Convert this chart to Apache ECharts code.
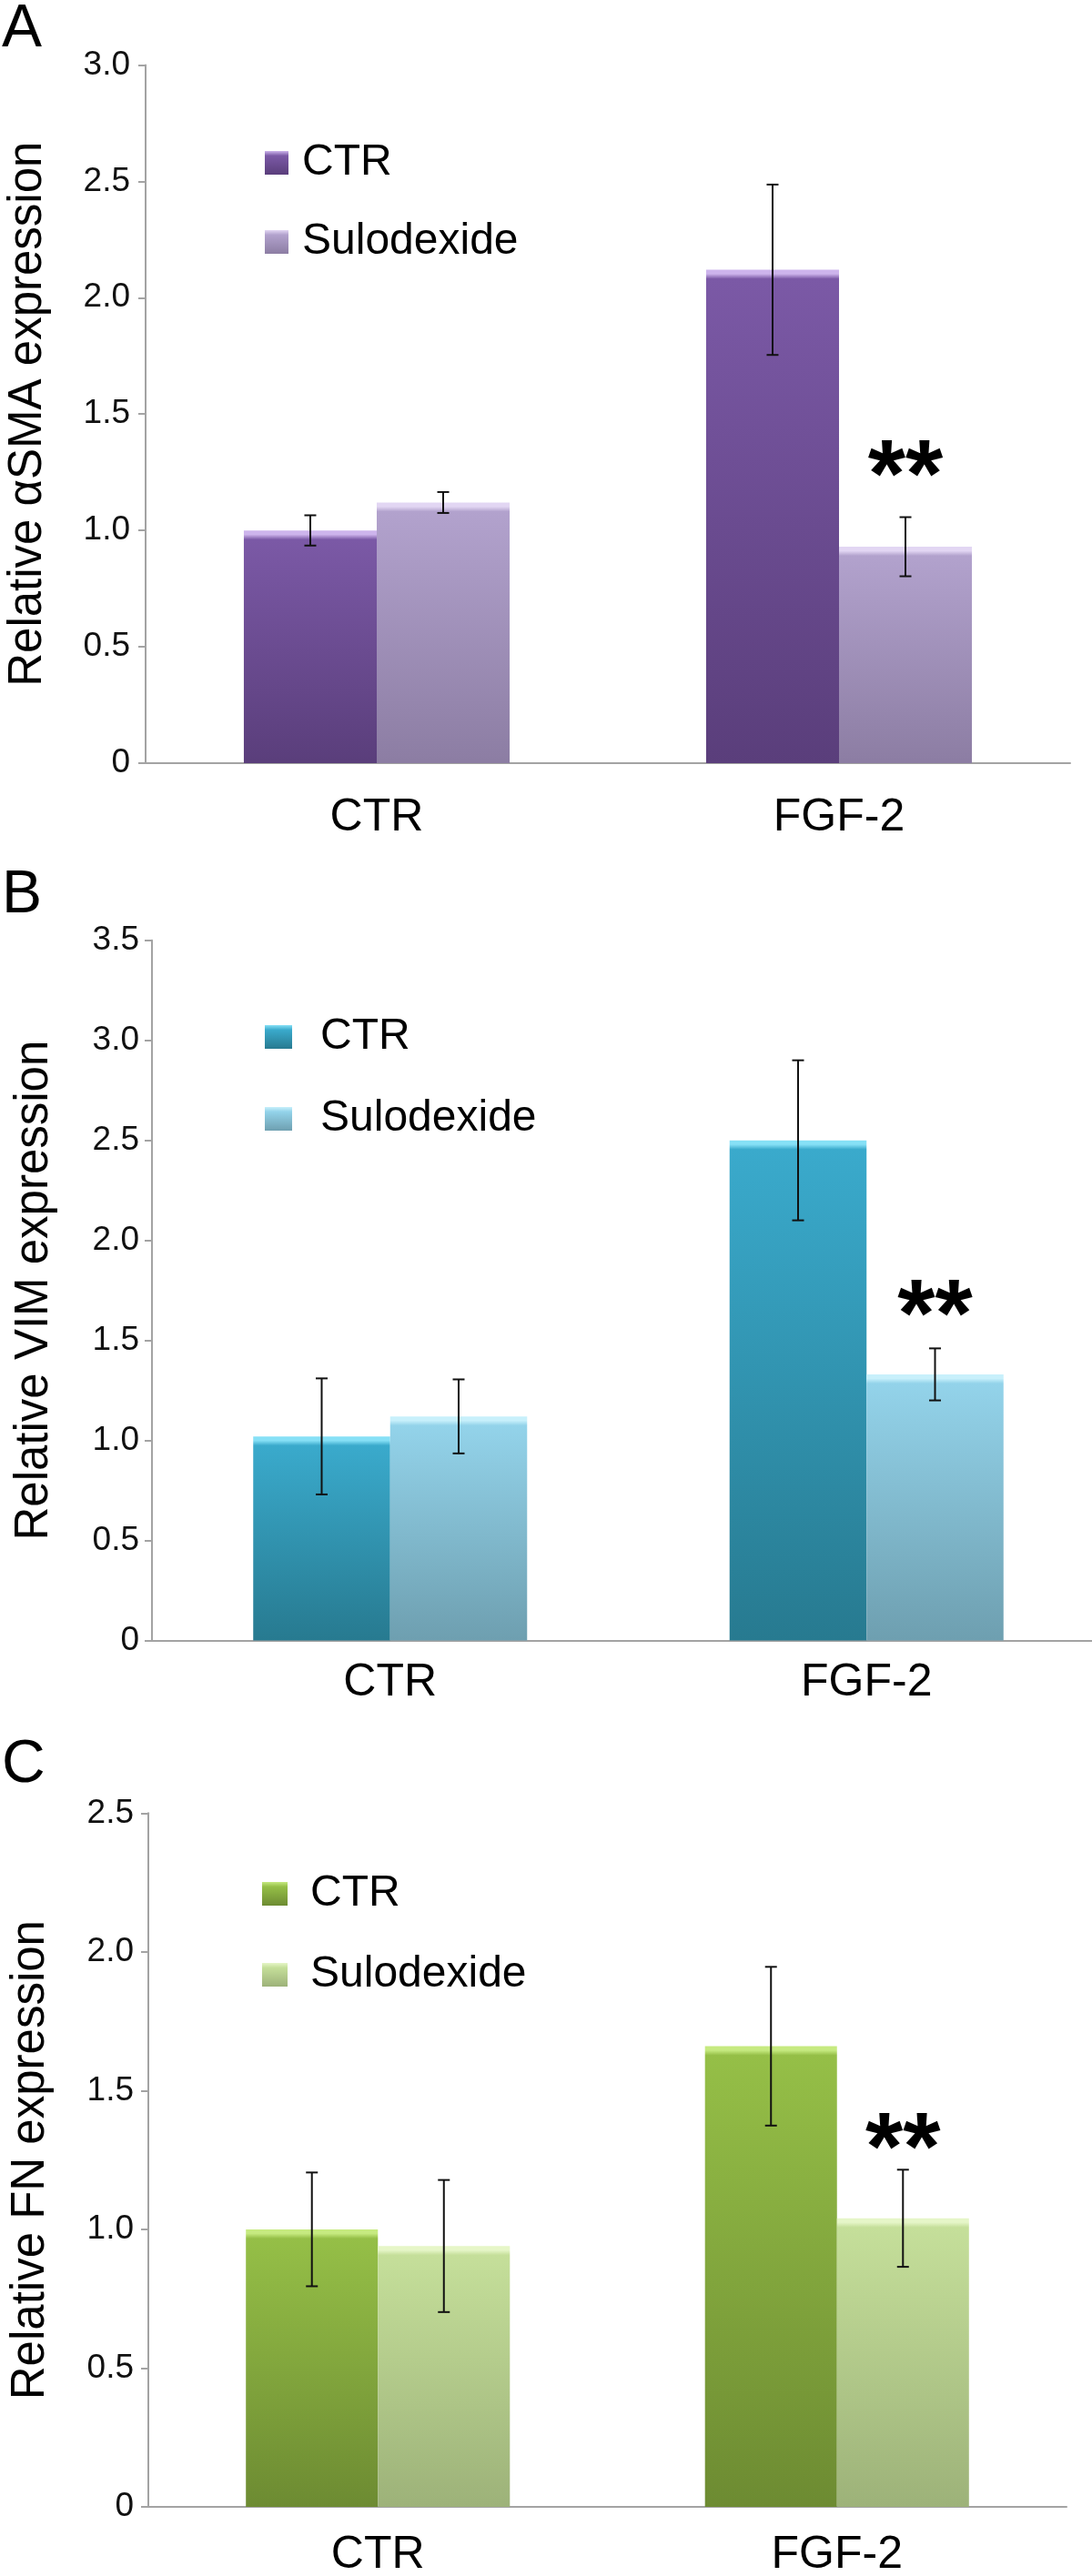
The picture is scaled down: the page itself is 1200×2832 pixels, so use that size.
<!DOCTYPE html>
<html>
<head>
<meta charset="utf-8">
<script src="https://cdn.jsdelivr.net/npm/echarts@6/dist/echarts.min.js"></script>
<style>
html,body{margin:0;padding:0;background:#ffffff;}
#chart{width:1200px;height:2832px;}
</style>
</head>
<body>
<div id="chart"></div>
<script>
// ---------- DATA ----------
const categories = ['CTR', 'FGF-2'];
const groupNames = ['CTR', 'Sulodexide'];

// Panel A : alpha-SMA
const smaCtr = [1.00, 2.12];
const smaCtrErr = [0.065, 0.366];
const smaSulo = [1.12, 0.93];
const smaSuloErr = [0.045, 0.127];
const smaSig = ['', '**'];
const smaTickMax = 3.0;

// Panel B : VIM
const vimCtr = [1.02, 2.50];
const vimCtrErr = [0.29, 0.40];
const vimSulo = [1.12, 1.33];
const vimSuloErr = [0.185, 0.13];
const vimSig = ['', '**'];
const vimTickMax = 3.5;

// Panel C : FN
const fnCtr = [1.00, 1.66];
const fnCtrErr = [0.205, 0.286];
const fnSulo = [0.94, 1.04];
const fnSuloErr = [0.238, 0.175];
const fnSig = ['', '**'];
const fnTickMax = 2.5;

const tickStep = 0.5;

// ---------- STYLE / LAYOUT ----------
const FONT = '"Liberation Sans", Arial, sans-serif';
const panels = [
  { letter: 'A', yName: 'Relative \u03b1SMA expression', ctr: smaCtr, ctrErr: smaCtrErr, sulo: smaSulo, suloErr: smaSuloErr, sig: smaSig, max: smaTickMax,
    grid: { left: 160, top: 71.4, width: 1016, height: 767.6 },
    letterTop: 0, legendTop: 155, legendLeft: 291, legendGap: 39, legendItemW: 26, legendTextPad: 10,
    catMargin: 35, starGap: 63, labelMargin: 17,
    colCtr: { hi: '#cdb4ec', top: '#7b59a6', bottom: '#5a3e7b' },
    colSulo: { hi: '#e2d6f3', top: '#b2a2cd', bottom: '#8c7da3' } },
  { letter: 'B', yName: 'Relative VIM expression', ctr: vimCtr, ctrErr: vimCtrErr, sulo: vimSulo, suloErr: vimSuloErr, sig: vimSig, max: vimTickMax,
    grid: { left: 167, top: 1033.7, width: 1047, height: 769.8 },
    letterTop: 952, legendTop: 1116, legendLeft: 291, legendGap: 42, legendItemW: 30, legendTextPad: 26,
    catMargin: 22, starGap: 54, labelMargin: 14,
    colCtr: { hi: '#86e0f6', top: '#3aaacc', bottom: '#277a90' },
    colSulo: { hi: '#c8f0fb', top: '#93d3ea', bottom: '#6e9fb0' } },
  { letter: 'C', yName: 'Relative FN expression', ctr: fnCtr, ctrErr: fnCtrErr, sulo: fnSulo, suloErr: fnSuloErr, sig: fnSig, max: fnTickMax,
    grid: { left: 163, top: 1993.3, width: 1009, height: 762.7 },
    letterTop: 1908, legendTop: 2058, legendLeft: 288, legendGap: 41, legendItemW: 28, legendTextPad: 20,
    catMargin: 28, starGap: 41, labelMargin: 16,
    colCtr: { hi: '#c6ea80', top: '#95bf47', bottom: '#6d8b32' },
    colSulo: { hi: '#e6f6c8', top: '#c5df9a', bottom: '#9db279' } }
];

const G = echarts.graphic;
function seriesGrad(c) {
  return new G.LinearGradient(0, 0, 0, 1, [
    { offset: 0, color: c.hi }, { offset: 0.2, color: c.top }, { offset: 1, color: c.bottom }]);
}
function barData(vals, c, max, gridH) {
  return vals.map(function (v) {
    const h = v / max * gridH;
    const o = Math.min(0.4, 10 / h);
    return { value: v, itemStyle: { color: new G.LinearGradient(0, 0, 0, 1, [
      { offset: 0, color: c.hi }, { offset: o * 0.45, color: c.hi },
      { offset: o, color: c.top }, { offset: 1, color: c.bottom }]) } };
  });
}
function errSeries(pi, vals, errs, sig, side, starGap) {
  return {
    type: 'custom', xAxisIndex: pi, yAxisIndex: pi, silent: true, z: 10,
    encode: { x: 0, y: [1, 2] },
    data: vals.map(function (v, i) { return [i, v - errs[i], v + errs[i], i]; }),
    renderItem: function (params, api) {
      const idx = api.value(0);
      const band = api.size([1, 0])[0];
      const cx = api.coord([idx, 0])[0] + side * band * 0.14375;
      const yLo = api.coord([idx, api.value(1)])[1];
      const yHi = api.coord([idx, api.value(2)])[1];
      const cap = 6.5;
      const st = { stroke: '#111111', lineWidth: 2 };
      const children = [
        { type: 'line', shape: { x1: cx, y1: yHi, x2: cx, y2: yLo }, style: st },
        { type: 'line', shape: { x1: cx - cap, y1: yHi, x2: cx + cap, y2: yHi }, style: st },
        { type: 'line', shape: { x1: cx - cap, y1: yLo, x2: cx + cap, y2: yLo }, style: st }
      ];
      const s = sig ? sig[api.value(3)] : '';
      if (s) {
        children.push({ type: 'text', x: cx, y: yHi - starGap + 22,
          style: { text: s, font: 'bold 106px "Liberation Sans", Arial, sans-serif', fill: '#000', align: 'center', verticalAlign: 'middle' } });
      }
      return { type: 'group', children: children };
    }
  };
}

const option = {
  animation: false,
  backgroundColor: '#ffffff',
  title: [], grid: [], xAxis: [], yAxis: [], legend: [], series: []
};

panels.forEach(function (p, pi) {
  option.title.push({ text: p.letter, left: 2, top: p.letterTop, padding: 0,
    textStyle: { fontFamily: FONT, fontSize: 66, fontWeight: 'normal', color: '#000' } });
  option.grid.push(Object.assign({ containLabel: false, outerBoundsMode: 'none' }, p.grid));
  option.xAxis.push({
    type: 'category', gridIndex: pi, data: categories,
    axisLine: { lineStyle: { color: '#a3a3a3', width: 2 } },
    axisTick: { show: false },
    axisLabel: { fontFamily: FONT, fontSize: 50, color: '#000', margin: p.catMargin }
  });
  option.yAxis.push({
    type: 'value', gridIndex: pi, min: 0, max: p.max, interval: tickStep,
    name: p.yName, nameLocation: 'middle', nameGap: 104, nameMoveOverlap: false,
    nameTextStyle: { fontFamily: FONT, fontSize: 51, color: '#000' },
    axisLine: { show: true, lineStyle: { color: '#a3a3a3', width: 2 } },
    axisTick: { show: true, inside: false, length: 8, lineStyle: { color: '#a3a3a3', width: 2 } },
    splitLine: { show: false },
    axisLabel: { fontFamily: FONT, fontSize: 37, color: '#111', margin: p.labelMargin, padding: [0, 0, 26, 0],
      formatter: function (v) { return v === 0 ? '0' : v.toFixed(1); } }
  });
  const n1 = groupNames[0] + '|' + p.letter, n2 = groupNames[1] + '|' + p.letter;
  option.legend.push({
    orient: 'vertical', left: p.legendLeft, top: p.legendTop, padding: 0,
    itemWidth: p.legendItemW, itemHeight: 26, itemGap: p.legendGap, icon: 'rect',
    selectedMode: false, data: [n1, n2],
    formatter: function (n) { return n.split('|')[0]; },
    textStyle: { fontFamily: FONT, fontSize: 48, color: '#000', lineHeight: 40, padding: [0, 0, 0, p.legendTextPad] }
  });
  option.series.push({
    name: n1, type: 'bar', xAxisIndex: pi, yAxisIndex: pi, barGap: '0%', barCategoryGap: '42.5%',
    itemStyle: { color: seriesGrad(p.colCtr) },
    data: barData(p.ctr, p.colCtr, p.max, p.grid.height)
  });
  option.series.push({
    name: n2, type: 'bar', xAxisIndex: pi, yAxisIndex: pi, barGap: '0%', barCategoryGap: '42.5%',
    itemStyle: { color: seriesGrad(p.colSulo) },
    data: barData(p.sulo, p.colSulo, p.max, p.grid.height)
  });
  option.series.push(errSeries(pi, p.ctr, p.ctrErr, null, -1, p.starGap));
  option.series.push(errSeries(pi, p.sulo, p.suloErr, p.sig, 1, p.starGap));
});

const chart = echarts.init(document.getElementById('chart'), null, { renderer: 'canvas', width: 1200, height: 2832 });
chart.setOption(option);
</script>
</body>
</html>
